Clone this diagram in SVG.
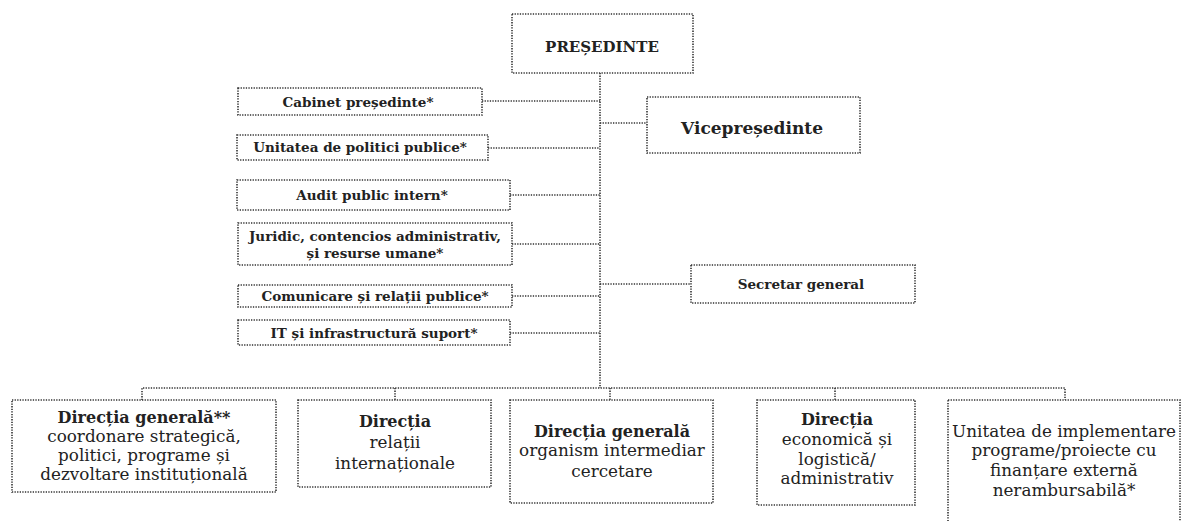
<svg xmlns="http://www.w3.org/2000/svg" width="1183" height="521" viewBox="0 0 1183 521">
<style>
.box{fill:#fff;stroke:#333;stroke-width:1.6;stroke-dasharray:1.3 1.3}
.ln{fill:none;stroke:#333;stroke-width:1.6;stroke-dasharray:1.3 1.3}
text{font-family:"DejaVu Serif","Liberation Serif",serif;fill:#222;text-anchor:middle}
.s{font-size:13.5px;font-weight:bold}
.b{font-size:16px;font-weight:bold}
.r{font-size:16.8px}
</style>
<rect width="1183" height="521" fill="#fff"/>
<g id="connectors">
<path class="ln" d="M600 73 V388"/>
<path class="ln" d="M482 101 H600"/>
<path class="ln" d="M488 148 H600"/>
<path class="ln" d="M510 195 H600"/>
<path class="ln" d="M512 244 H600"/>
<path class="ln" d="M512 296 H600"/>
<path class="ln" d="M510 333 H600"/>
<path class="ln" d="M600 123 H647"/>
<path class="ln" d="M600 284 H691"/>
<path class="ln" d="M142 400 V388 H1065 V400"/>
<path class="ln" d="M395 388 V400"/>
<path class="ln" d="M610 388 V400"/>
<path class="ln" d="M835 388 V400"/>
</g>
<g id="presedinte"><rect class="box" x="512" y="14" width="181" height="59"/><text x="602" y="52" style="font-size:15px;font-weight:bold">PREȘEDINTE</text></g>
<g id="cabinet"><rect class="box" x="238" y="88" width="244" height="27"/><text class="s" x="358" y="107">Cabinet președinte*</text></g>
<g id="upp"><rect class="box" x="237" y="135" width="251" height="25"/><text class="s" x="360" y="152">Unitatea de politici publice*</text></g>
<g id="audit"><rect class="box" x="237" y="180" width="273" height="30"/><text class="s" x="372" y="200">Audit  public intern*</text></g>
<g id="juridic"><rect class="box" x="238" y="223" width="274" height="42"/><text class="s" x="375" y="241">Juridic, contencios administrativ,</text><text class="s" x="375" y="258">și resurse umane*</text></g>
<g id="comunicare"><rect class="box" x="238" y="285" width="274" height="22"/><text class="s" x="375" y="301">Comunicare și relații publice*</text></g>
<g id="it"><rect class="box" x="238" y="320" width="272" height="25"/><text class="s" x="374" y="338">IT și infrastructură suport*</text></g>
<g id="vicepresedinte"><rect class="box" x="647" y="97" width="213" height="56"/><text x="752" y="134" style="font-size:17px;font-weight:bold">Vicepreședinte</text></g>
<g id="secretar"><rect class="box" x="691" y="265" width="224" height="38"/><text class="s" x="801" y="289">Secretar general</text></g>
<g id="dg1"><rect class="box" x="12" y="400" width="264" height="92"/><text class="b" x="144" y="423">Direcția generală**</text><text class="r" x="144" y="442">coordonare strategică,</text><text class="r" x="144" y="461">politici, programe și</text><text class="r" x="144" y="480">dezvoltare instituțională</text></g>
<g id="dri"><rect class="box" x="298" y="400" width="193" height="87"/><text class="b" x="395" y="427">Direcția</text><text class="r" x="395" y="448">relații</text><text class="r" x="395" y="469">internaționale</text></g>
<g id="dgoi"><rect class="box" x="510" y="400" width="203" height="103"/><text class="b" x="612" y="437">Direcția generală</text><text class="r" x="612" y="456">organism intermediar</text><text class="r" x="612" y="477">cercetare</text></g>
<g id="dea"><rect class="box" x="757" y="400" width="158" height="105"/><text class="b" x="837" y="425">Direcția</text><text class="r" x="837" y="445">economică și</text><text class="r" x="837" y="465">logistică/</text><text class="r" x="837" y="484">administrativ</text></g>
<g id="uip"><rect class="box" x="948" y="400" width="232" height="125"/><text class="r" x="1064" y="437">Unitatea de implementare</text><text class="r" x="1064" y="456">programe/proiecte cu</text><text class="r" x="1064" y="476">finanțare externă</text><text class="r" x="1064" y="496">nerambursabilă*</text></g>
</svg>
